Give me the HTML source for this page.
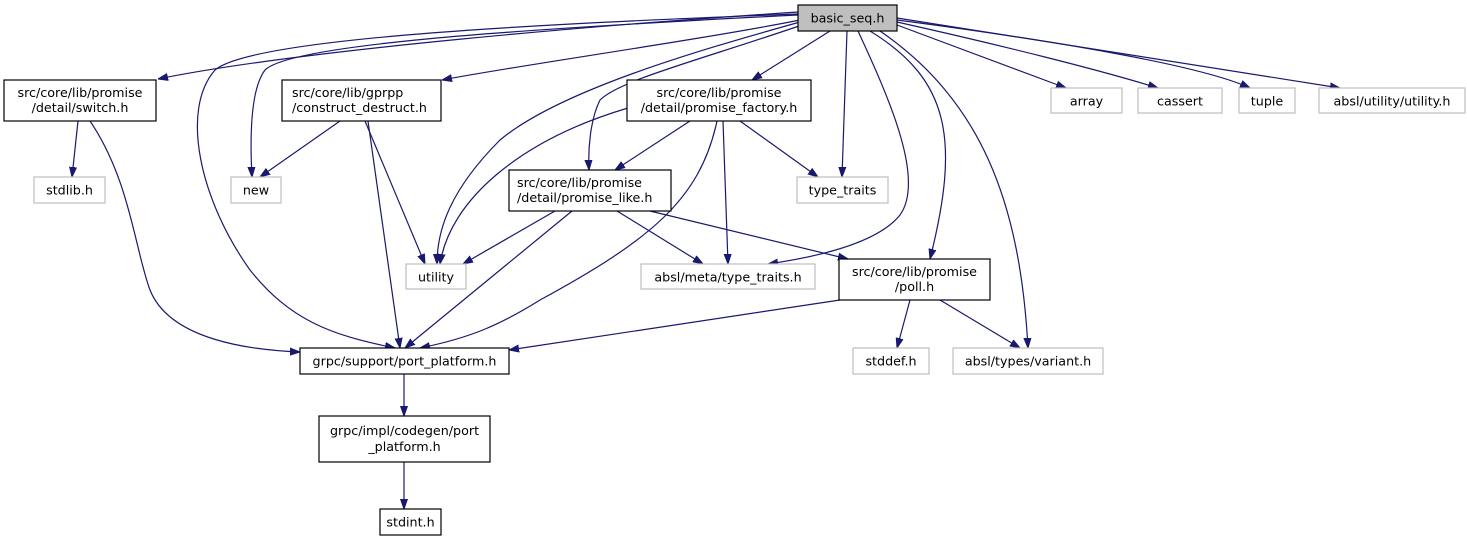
<!DOCTYPE html>
<html><head><meta charset="utf-8"><style>
html,body{margin:0;padding:0;background:#fff;}
svg{display:block;}
text{font-family:"DejaVu Sans","Liberation Sans",sans-serif;font-size:12.7px;fill:#000;}
.e{fill:none;stroke:#191970;stroke-width:1.2;marker-end:url(#a);}
.b{fill:#fff;stroke:#000;stroke-width:1.2;}
.g{fill:#fff;stroke:#bfbfbf;stroke-width:1.2;}
</style></head><body>
<svg width="1467" height="544" viewBox="0 0 1467 544" xmlns="http://www.w3.org/2000/svg">
<defs><marker id="a" viewBox="0 0 10 10" refX="10" refY="5" markerWidth="10" markerHeight="10" markerUnits="userSpaceOnUse" orient="auto"><path d="M0,1.5 L10,5 L0,8.5 z" fill="#191970" stroke="#191970"/></marker></defs>
<path class="e" d="M798,12 C600,25 300,50 158,79"/>
<path class="e" d="M798,14 C500,25 250,40 215,70 C180,110 200,200 250,270 C290,320 330,335 395,348"/>
<path class="e" d="M798,15 C500,30 290,45 265,70 C250,90 250,140 252,177"/>
<path class="e" d="M800,20 C700,40 520,65 442,80"/>
<path class="e" d="M800,22 C700,50 560,90 500,140 C450,190 437,230 437,264"/>
<path class="e" d="M802,25 C700,60 620,80 600,100 C590,120 588,150 589,170"/>
<path class="e" d="M830,31 L752,80"/>
<path class="e" d="M847,31 L842,177"/>
<path class="e" d="M858,31 C890,100 925,180 900,215 C880,240 830,255 768,264"/>
<path class="e" d="M870,31 C950,80 960,140 930,259"/>
<path class="e" d="M880,31 C980,100 1020,200 1028,348"/>
<path class="e" d="M897,25 L1066,88"/>
<path class="e" d="M897,22 C1000,45 1100,70 1158,88"/>
<path class="e" d="M897,20 C1050,40 1200,65 1250,88"/>
<path class="e" d="M897,18 L1340,88"/>
<path class="e" d="M78,121 L72,177"/>
<path class="e" d="M90,121 C130,180 135,250 150,290 C170,340 250,350 300,352"/>
<path class="e" d="M340,121 L260,177"/>
<path class="e" d="M365,121 L425,264"/>
<path class="e" d="M368,121 L400,348"/>
<path class="e" d="M628,108 C520,140 450,200 440,264"/>
<path class="e" d="M690,121 L615,170"/>
<path class="e" d="M717,121 C700,200 650,240 540,300 C500,325 470,338 420,348"/>
<path class="e" d="M723,121 L728,264"/>
<path class="e" d="M740,121 L818,177"/>
<path class="e" d="M555,211 L463,264"/>
<path class="e" d="M572,211 L405,348"/>
<path class="e" d="M617,211 L703,264"/>
<path class="e" d="M650,211 L848,259"/>
<path class="e" d="M840,300 L509,350"/>
<path class="e" d="M910,300 L897,348"/>
<path class="e" d="M940,300 L1020,348"/>
<path class="e" d="M404,374 L404,416"/>
<path class="e" d="M404,462 L404,509"/>

<rect x="798" y="5" width="99" height="26" fill="#bfbfbf" stroke="#000" stroke-width="1.2"/>
<text x="847.5" y="22.5" text-anchor="middle">basic_seq.h</text>

<rect class="b" x="4" y="80" width="152" height="41"/>
<text x="80" y="97" text-anchor="middle">src/core/lib/promise</text>
<text x="80" y="112" text-anchor="middle">/detail/switch.h</text>

<rect class="b" x="282" y="80" width="159" height="41"/>
<text x="292" y="97">src/core/lib/gprpp</text>
<text x="292" y="112">/construct_destruct.h</text>

<rect class="b" x="627" y="80" width="184" height="41"/>
<text x="719" y="97" text-anchor="middle">src/core/lib/promise</text>
<text x="719" y="112" text-anchor="middle">/detail/promise_factory.h</text>

<rect class="b" x="509" y="170" width="162" height="41"/>
<text x="517" y="187">src/core/lib/promise</text>
<text x="517" y="202">/detail/promise_like.h</text>

<rect class="b" x="839" y="259" width="151" height="41"/>
<text x="914.5" y="276" text-anchor="middle">src/core/lib/promise</text>
<text x="914.5" y="291" text-anchor="middle">/poll.h</text>

<rect class="g" x="34" y="177" width="71" height="26"/><text x="69.5" y="194.5" text-anchor="middle">stdlib.h</text>
<rect class="g" x="231" y="177" width="50" height="26"/><text x="256" y="194.5" text-anchor="middle">new</text>
<rect class="g" x="797" y="177" width="91" height="26"/><text x="842.5" y="194.5" text-anchor="middle">type_traits</text>
<rect class="g" x="406" y="264" width="60" height="25"/><text x="436" y="281.5" text-anchor="middle">utility</text>
<rect class="g" x="641" y="264" width="174" height="25"/><text x="728" y="281.5" text-anchor="middle">absl/meta/type_traits.h</text>
<rect class="g" x="1051" y="88" width="71" height="25"/><text x="1086.5" y="105.5" text-anchor="middle">array</text>
<rect class="g" x="1138" y="88" width="84" height="25"/><text x="1180" y="105.5" text-anchor="middle">cassert</text>
<rect class="g" x="1239" y="88" width="56" height="25"/><text x="1267" y="105.5" text-anchor="middle">tuple</text>
<rect class="g" x="1319" y="88" width="146" height="25"/><text x="1392" y="105.5" text-anchor="middle">absl/utility/utility.h</text>
<rect class="g" x="853" y="348" width="76" height="26"/><text x="891" y="365.5" text-anchor="middle">stddef.h</text>
<rect class="g" x="953" y="348" width="150" height="26"/><text x="1028" y="365.5" text-anchor="middle">absl/types/variant.h</text>

<rect class="b" x="300" y="348" width="209" height="26"/><text x="404.5" y="365.5" text-anchor="middle">grpc/support/port_platform.h</text>
<rect class="b" x="319" y="416" width="171" height="46"/>
<text x="404.5" y="435" text-anchor="middle">grpc/impl/codegen/port</text>
<text x="404.5" y="451" text-anchor="middle">_platform.h</text>
<rect class="b" x="380" y="509" width="61" height="26"/><text x="410.5" y="526.5" text-anchor="middle">stdint.h</text>
</svg>
</body></html>
